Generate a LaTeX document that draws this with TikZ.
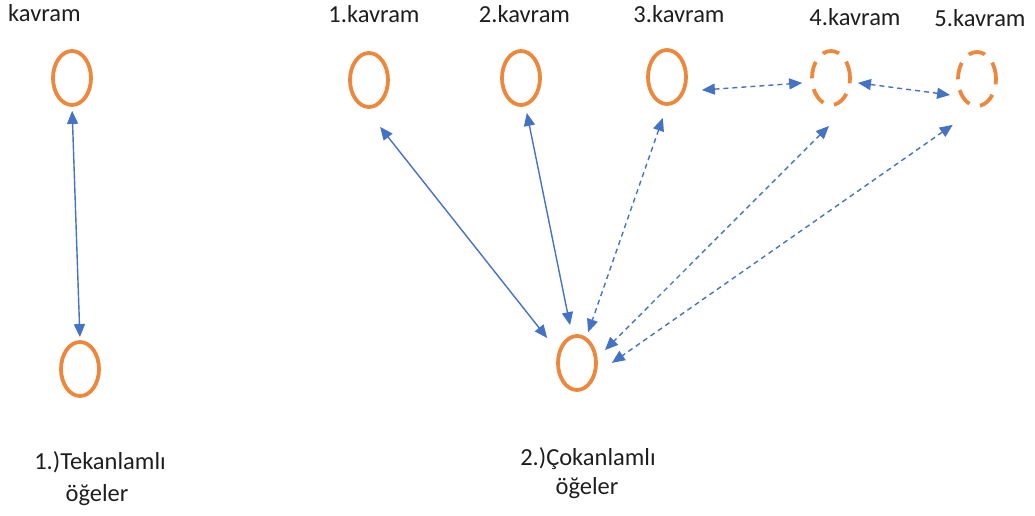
\documentclass[tikz,border=0pt]{standalone}
\usepackage{fontspec}
\setmainfont{Carlito}
\usetikzlibrary{shapes.geometric,arrows.meta}
\definecolor{ora}{RGB}{237,135,60}
\definecolor{blu}{RGB}{68,114,196}
\definecolor{txt}{RGB}{30,30,30}
\tikzset{
  lbl/.style={inner sep=0pt, text=txt, font=\fontsize{24.5}{29}\selectfont},
  kv/.style={ellipse, draw=ora, line width=3.8pt, minimum width=38pt, minimum height=54pt, inner sep=0pt},
  kvd/.style={kv, dash pattern=on 17pt off 11pt},
  sarr/.style={draw=blu, line width=1.4pt, {Triangle[length=13pt,width=11pt]}-{Triangle[length=13pt,width=11pt]}},
  darr/.style={sarr, dash pattern=on 5pt off 4pt}
}
\begin{document}
\begin{tikzpicture}[x=1pt,y=-1pt]
\useasboundingbox (0,0) rectangle (1035,516);
% labels
\node[lbl, anchor=base west] (k0) at (8,22) {kavram};
\node[lbl, anchor=base] (k1) at (374,22.7) {1.kavram};
\node[lbl, anchor=base] (k2) at (524.5,22.7) {2.kavram};
\node[lbl, anchor=base] (k3) at (679,22.7) {3.kavram};
\node[lbl, anchor=base] (k4) at (855,26) {4.kavram};
\node[lbl, anchor=base] (k5) at (980,26.5) {5.kavram};
\node[lbl, anchor=base] (c1a) at (100,469) {1.)Tekanlamlı};
\node[lbl, anchor=base] (c1b) at (97,501) {öğeler};
\node[lbl, anchor=base] (c2a) at (588,465) {2.)Çokanlamlı};
\node[lbl, anchor=base] (c2b) at (587,494) {öğeler};
% ellipses
\node[kv] (lt) at (72,78) {};
\node[kv] (lb) at (80,369) {};
\node[kv] (t1) at (369,80) {};
\node[kv] (t2) at (521,78) {};
\node[kv] (t3) at (667,77) {};
\node[kvd] (t4) at (831,78) {};
\node[kvd] (t5) at (977,79) {};
\node[kv] (b) at (577,363) {};
% connectors
\draw[sarr, shorten <=4pt, shorten >=3pt] (lt.-90) -- (lb.90);
\draw[sarr, shorten <=23.5pt, shorten >=17.2pt] (t1.-97) -- (b.149);
\draw[sarr, shorten <=6.8pt, shorten >=10pt] (t2.-81) -- (b.100);
\draw[darr, shorten <=12.7pt, shorten >=5.3pt] (t3.-90) -- (b.70);
\draw[darr, shorten <=26.9pt, shorten >=10.5pt] ([xshift=17pt]t4.south) -- (b.15);
\draw[darr, shorten <=29.6pt, shorten >=18.9pt] (t5.-90) -- (b.-29);
\draw[darr, shorten <=16.7pt, shorten >=8.2pt] (t3.-38) -- (t4.192);
\draw[darr, shorten <=6.3pt, shorten >=10.3pt] (t4.-11) -- (t5.226);
\end{tikzpicture}
\end{document}
